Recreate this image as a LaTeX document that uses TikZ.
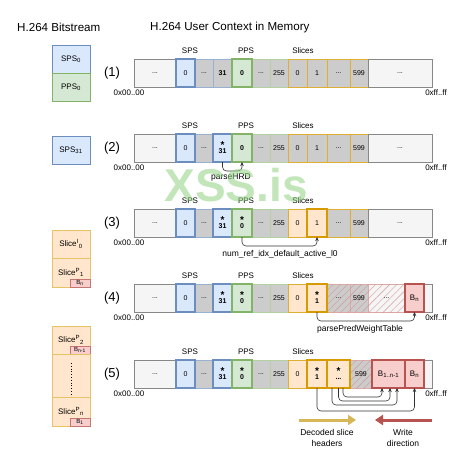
\documentclass[tikz,border=0pt]{standalone}
\usepackage{fontspec}
\setmainfont{Liberation Sans}
\usetikzlibrary{arrows.meta,patterns.meta}
\definecolor{bfill}{HTML}{DAE8FC}\definecolor{bline}{HTML}{6C8EBF}
\definecolor{gfill}{HTML}{D5E8D4}\definecolor{gline}{HTML}{82B366}
\definecolor{ofill}{HTML}{FFE6CC}\definecolor{oline}{HTML}{D79B00}
\definecolor{rfill}{HTML}{F8CECC}\definecolor{rline}{HTML}{B85450}
\definecolor{cgray}{HTML}{CCCCCC}\definecolor{lgray}{HTML}{F5F5F5}
\definecolor{dgray}{HTML}{888888}\definecolor{yarrow}{HTML}{D6B656}
\definecolor{cline}{HTML}{333333}\definecolor{wmark}{HTML}{8FD282}
\newcommand\cel[6]{%
  \pgfmathsetmacro\mycw{#3-#2}%
  \pgfmathsetmacro\mycx{(#2+#3)/2}%
  \node[cell,#5,minimum width=\mycw pt] (#1) at (\mycx,#4+14) {#6};}
\newcommand\stx[1]{{\fontsize{10}{6}\selectfont\textbf{*}}\\[-3pt]\textbf{#1}}
\newcommand\rowdecor[2]{%
  \node[idx] (n#1) at (112,#2+14) {(#1)};
  \node[lab] (sps#1) at (190,#2-8) {SPS};
  \node[lab] (pps#1) at (246,#2-8) {PPS};
  \node[lab] (sl#1) at (303,#2-8) {Slices};
  \node[lab] (lo#1) at (129,#2+34) {0x00..00};
  \node[lab] (hi#1) at (436,#2+34) {0xff..ff};}
\begin{document}
\begin{tikzpicture}[x=1pt,y=-1pt,
  cell/.style={draw, minimum height=28pt, inner sep=0pt, outer sep=0pt,
    font=\fontsize{7}{8}\selectfont, align=center},
  big/.style={fill=lgray, draw=dgray},
  gb/.style={fill=cgray, draw=bline!70},
  gg/.style={fill=cgray, draw=gline!60},
  go/.style={fill=cgray, draw=oline!80},
  po/.style={fill=ofill, draw=oline!80},
  sb/.style={fill=bfill, draw=bline, line width=1.6pt},
  sg/.style={fill=gfill, draw=gline, line width=1.6pt},
  so/.style={fill=ofill, draw=oline, line width=1.6pt},
  sr/.style={fill=rfill, draw=rline, line width=1.6pt},
  hg/.style={fill=cgray, draw=rline!50, postaction={pattern={Lines[angle=45,distance=5pt,line width=0.4pt]}, pattern color=rline!60}},
  hl/.style={fill=lgray, draw=rline!50, postaction={pattern={Lines[angle=45,distance=5pt,line width=0.4pt]}, pattern color=rline!60}},
  lab/.style={font=\fontsize{8}{9}\selectfont, inner sep=0pt},
  idx/.style={font=\fontsize{13}{13}\selectfont, inner sep=0pt},
  ttl/.style={font=\fontsize{11.6}{12}\selectfont, inner sep=0pt, anchor=west},
  lbox/.style={minimum width=38pt, inner sep=0pt, outer sep=0pt, font=\fontsize{8}{9}\selectfont},
  lb/.style={lbox, fill=bfill, draw=bline, minimum height=28pt},
  lg/.style={lbox, fill=gfill, draw=gline, minimum height=28pt},
  lo/.style={lbox, fill=ofill, draw=oline!60},
  tag/.style={fill=rfill, draw=rline!80, minimum width=20pt, minimum height=8pt, inner sep=0pt, outer sep=0pt, font=\fontsize{6}{6}\selectfont, anchor=south east},
  conn/.style={draw=cline, line width=0.6pt, rounded corners=4pt, -{Stealth[length=4pt,width=3.5pt]}},
  clab/.style={font=\fontsize{8.5}{9}\selectfont, inner sep=0pt}
]
\useasboundingbox (0,0) rectangle (465,448);
% titles
\node[ttl] (t1) at (17,27) {H.264 Bitstream};
\node[ttl] (t2) at (150,27) {H.264 User Context in Memory};
% left bitstream boxes
\node[lb] (bsps0) at (71,59) {SPS\textsubscript{0}};
\node[lg] (bpps0) at (71,87) {PPS\textsubscript{0}};
\node[lb] (bsps31) at (71,150) {SPS\textsubscript{31}};
\node[lo, minimum height=28pt] (bsi0) at (71,244) {Slice\textsuperscript{I}\textsubscript{0}};
\node[lo, minimum height=29pt] (bsp1) at (71,272.5) {Slice\textsuperscript{P}\textsubscript{1}};
\node[tag] (tg1) at (bsp1.south east) {B\textsubscript{n}};
\node[lo, minimum height=28pt] (bsp2) at (71,340) {Slice\textsuperscript{P}\textsubscript{2}};
\node[tag] (tg2) at (bsp2.south east) {B\textsubscript{n-1}};
\node[lo, minimum height=43pt] (bdots) at (71,375.5) {};
\draw[dotted, line width=0.8pt] (bdots.north) ++(0,9) coordinate (d1) -- ([yshift=-9pt]bdots.south) coordinate (d2);
\node[lo, minimum height=29pt] (bspn) at (71,411.5) {Slice\textsuperscript{P}\textsubscript{n}};
\node[tag] (tg3) at (bspn.south east) {B\textsubscript{1}};

% ---------- Row 1
\rowdecor{1}{59}
\cel{A1}{134}{176}{59}{big}{...}
\cel{C1}{195}{213}{59}{gb}{...}
\cel{D1}{213}{232}{59}{gb}{\textbf{31}}
\cel{F1}{252}{270}{59}{gg}{...}
\cel{G1}{270}{288}{59}{gg}{255}
\cel{H1}{288}{307}{59}{go}{0}
\cel{I1}{307}{327}{59}{go}{1}
\cel{J1}{327}{350}{59}{go}{...}
\cel{K1}{350}{368}{59}{go}{599}
\cel{L1}{368}{432}{59}{big}{...}
\cel{B1}{176}{195}{59}{sb}{0}
\cel{E1}{232}{252}{59}{sg}{\textbf{0}}

% ---------- Row 2
\rowdecor{2}{134}
\cel{A2}{134}{176}{134}{big}{...}
\cel{C2}{195}{213}{134}{gb}{...}
\cel{F2}{252}{270}{134}{gg}{...}
\cel{G2}{270}{288}{134}{gg}{255}
\cel{H2}{288}{307}{134}{go}{0}
\cel{I2}{307}{327}{134}{go}{1}
\cel{J2}{327}{350}{134}{go}{...}
\cel{K2}{350}{368}{134}{go}{599}
\cel{L2}{368}{432}{134}{big}{...}
\cel{B2}{176}{195}{134}{sb}{0}
\cel{D2}{213}{232}{134}{sb}{\stx{31}}
\cel{E2}{232}{252}{134}{sg}{\textbf{0}}
\draw[conn] (D2.south) -- ++(0,9) -| (E2.south);
\node[clab] (c2) at (231,177) {parseHRD};

% ---------- Row 3
\rowdecor{3}{209}
\cel{A3}{134}{176}{209}{big}{...}
\cel{C3}{195}{213}{209}{gb}{...}
\cel{F3}{252}{270}{209}{gg}{...}
\cel{G3}{270}{288}{209}{gg}{255}
\cel{H3}{288}{307}{209}{po}{0}
\cel{J3}{327}{350}{209}{go}{...}
\cel{K3}{350}{368}{209}{go}{599}
\cel{L3}{368}{432}{209}{big}{...}
\cel{B3}{176}{195}{209}{sb}{0}
\cel{D3}{213}{232}{209}{sb}{\stx{31}}
\cel{E3}{232}{252}{209}{sg}{\stx{0}}
\cel{I3}{307}{327}{209}{so}{1}
\draw[conn] (E3.south) -- ++(0,9) -| (I3.south);
\node[clab] (c3) at (280,254) {num\_ref\_idx\_default\_active\_l0};

% ---------- Row 4
\rowdecor{4}{284}
\cel{A4}{134}{176}{284}{big}{...}
\cel{C4}{195}{213}{284}{gb}{...}
\cel{F4}{252}{270}{284}{gg}{...}
\cel{G4}{270}{288}{284}{gg}{255}
\cel{H4}{288}{307}{284}{po}{0}
\cel{J4}{327}{350}{284}{hg}{...}
\cel{K4}{350}{368}{284}{hg}{599}
\cel{L4}{368}{405}{284}{hl}{...}
\cel{T4}{424}{432}{284}{big}{}
\cel{B4}{176}{195}{284}{sb}{0}
\cel{D4}{213}{232}{284}{sb}{\stx{31}}
\cel{E4}{232}{252}{284}{sg}{\stx{0}}
\cel{I4}{307}{327}{284}{so}{\stx{1}}
\cel{N4}{405}{424}{284}{sr}{\fontsize{8}{9}\selectfont B\textsubscript{n}}
\draw[conn] (I4.south) -- ++(0,9) -| (N4.south);
\node[clab] (c4) at (360,329) {parsePredWeightTable};

% ---------- Row 5
\rowdecor{5}{360}
\cel{A5}{134}{176}{360}{big}{...}
\cel{C5}{195}{213}{360}{gb}{...}
\cel{F5}{252}{270}{360}{gg}{...}
\cel{G5}{270}{288}{360}{gg}{255}
\cel{H5}{288}{307}{360}{po}{0}
\cel{K5}{350}{372}{360}{hg}{599}
\cel{T5}{424}{432}{360}{big}{}
\cel{B5}{176}{195}{360}{sb}{0}
\cel{D5}{213}{232}{360}{sb}{\stx{31}}
\cel{E5}{232}{252}{360}{sg}{\stx{0}}
\cel{I5}{307}{327}{360}{so}{\stx{1}}
\cel{J5}{327}{350}{360}{so}{\stx{...}}
\cel{M5}{372}{405}{360}{sr}{\fontsize{8}{9}\selectfont B\textsubscript{1..n-1}}
\cel{N5}{405}{424}{360}{sr}{\fontsize{8}{9}\selectfont B\textsubscript{n}}
\draw[conn] (I5.south) -- ++(0,23) -| (N5.south);
\draw[conn] ([xshift=-6.5pt]J5.south) -- ++(0,17) -| ([xshift=8.5pt]M5.south);
\draw[conn] ([xshift=0pt]J5.south) -- ++(0,13) -| ([xshift=1.5pt]M5.south);
\draw[conn] ([xshift=4.5pt]J5.south) -- ++(0,9) -| ([xshift=-6.5pt]M5.south);

% ---------- direction arrows
\coordinate (ya) at (299,420); \coordinate (yb) at (356,420);
\coordinate (ra) at (432,420); \coordinate (rb) at (375,420);
\draw[yarrow, line width=3pt, -{Triangle[length=8pt,width=10pt]}] (ya) -- (yb);
\draw[rline, line width=3pt, -{Triangle[length=8pt,width=10pt]}] (ra) -- (rb);
\node[lab, align=center, font=\fontsize{8.5}{11}\selectfont] (dl) at (327,438) {Decoded slice\\headers};
\node[lab, align=center, font=\fontsize{8.5}{11}\selectfont] (wl) at (403,438) {Write\\direction};

% watermark
\node[font=\fontsize{46}{46}\selectfont\bfseries, text=wmark, opacity=0.55, inner sep=0pt] (wm) at (236,185) {XSS.is};
\end{tikzpicture}
\end{document}
